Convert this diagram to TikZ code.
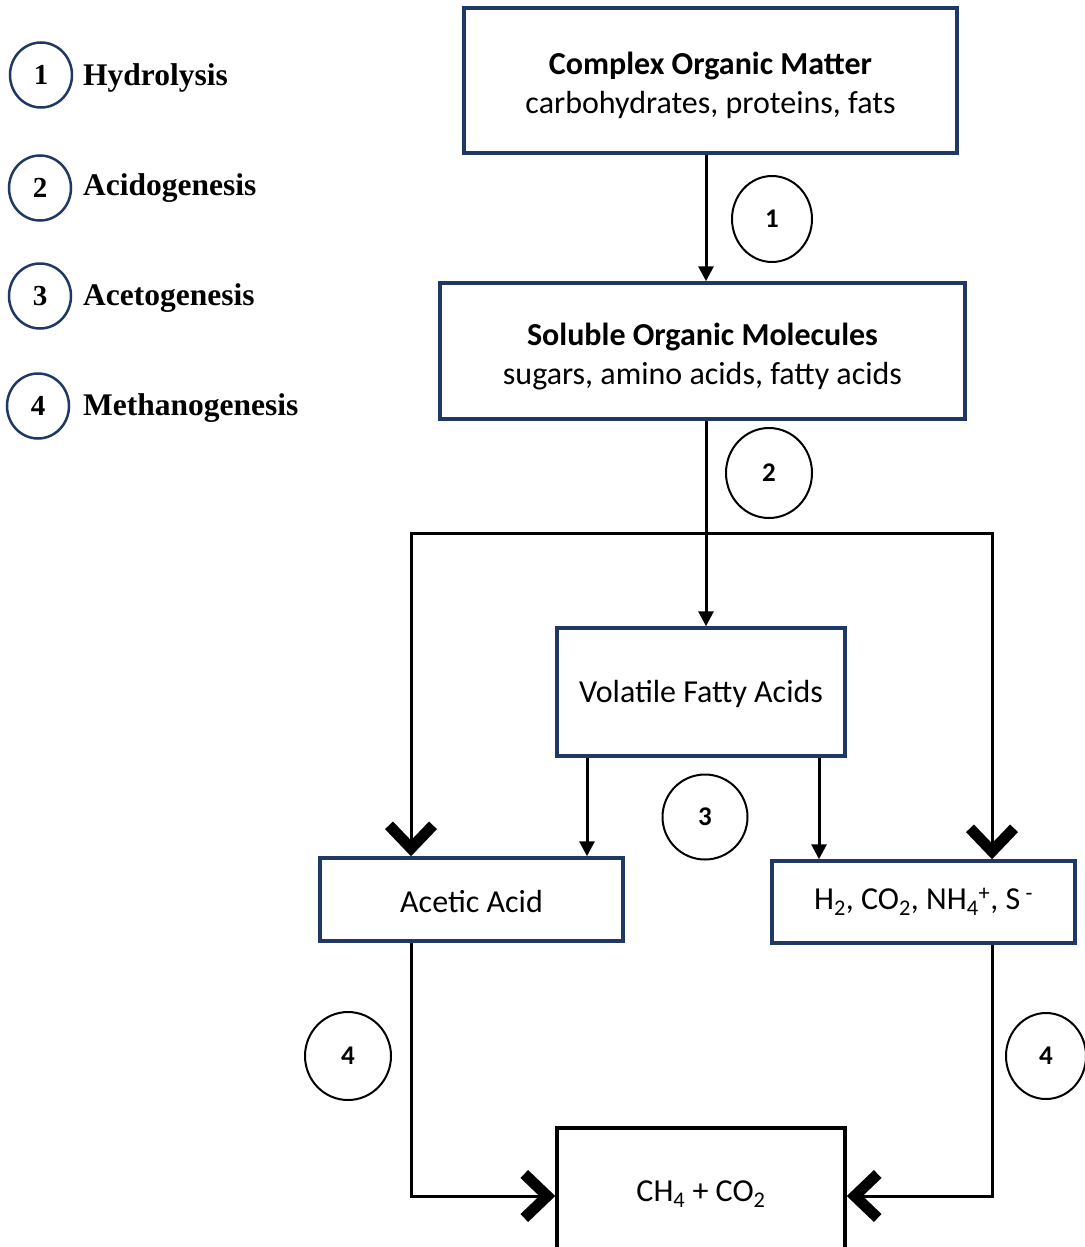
\documentclass[tikz,border=0pt]{standalone}
\usepackage{fontspec}
\setmainfont{Carlito}
\newfontfamily\legfont{Liberation Serif}
\usetikzlibrary{shapes.geometric,arrows.meta}
\definecolor{navy}{RGB}{31,56,100}
\begin{document}
\begin{tikzpicture}[x=1pt,y=-1pt,
  box/.style={draw=navy,line width=3.5pt,rectangle,inner sep=0pt,align=center,font=\fontsize{32}{39}\selectfont},
  stage/.style={draw=black,line width=2pt,ellipse,inner sep=0pt,minimum width=80pt,minimum height=86pt,font=\fontsize{27}{30}\selectfont\bfseries},
  legc/.style={draw=navy,line width=2.5pt,ellipse,inner sep=0pt,minimum width=62pt,minimum height=65pt,font=\legfont\fontsize{29}{30}\selectfont\bfseries},
  legt/.style={anchor=base west,inner sep=0pt,font=\legfont\fontsize{31.5}{34}\selectfont\bfseries},
  conn/.style={line width=3pt,draw=black},
  arr/.style={conn,-{Triangle[width=15pt,length=15pt]}},
  bigarr/.style={conn,-{Straight Barb[line width=11pt,length=23pt,width=44pt]}}]
\useasboundingbox (0,0) rectangle (1084,1247);
\fill[white] (0,0) rectangle (1084,1247);

% legend
\node[legc] (l1) at (41,75) {1};
\node[legt] (t1) at (83,85) {Hydrolysis};
\node[legc] (l2) at (40,188) {2};
\node[legt] (t2) at (83,195) {Acidogenesis};
\node[legc] (l3) at (40,296) {3};
\node[legt] (t3) at (83,305) {Acetogenesis};
\node[legc] (l4) at (38,406) {4};
\node[legt] (t4) at (83,415) {Methanogenesis};

% boxes
\node[box,minimum width=493pt,minimum height=145pt] (b1) at (710.5,80.5)
  {\rule{0pt}{32pt}\textbf{Complex Organic Matter}\\carbohydrates, proteins, fats};
\node[box,minimum width=525pt,minimum height=136pt] (b2) at (702.5,351)
  {\rule{0pt}{33pt}\textbf{Soluble Organic Molecules}\\sugars, amino acids, fatty acids};
\node[box,minimum width=288pt,minimum height=128pt] (vfa) at (701,692) {\rule{0pt}{27pt}Volatile Fatty Acids};
\node[box,minimum width=303pt,minimum height=83pt] (ac) at (471.5,899.5) {\rule{0pt}{26pt}Acetic Acid};
\node[box,minimum width=303pt,minimum height=82pt] (h2) at (923.5,902)
  {H\textsubscript{2}, CO\textsubscript{2}, NH\textsubscript{4}\textsuperscript{+}, S\,\textsuperscript{-}};
\node[box,draw=black,minimum width=288pt,minimum height=132pt] (ch4) at (701,1194)
  {CH\textsubscript{4} + CO\textsubscript{2}};

% stage circles
\node[stage] (s1) at (772,219) {1};
\node[stage,minimum width=86pt,minimum height=90pt] (s2) at (769,473) {2};
\node[stage,minimum width=85pt,minimum height=85pt] (s3) at (705,817) {3};
\node[stage,minimum width=86pt,minimum height=88pt] (s4a) at (348,1056) {4};
\node[stage] (s4b) at (1046,1056) {4};

% connectors
\coordinate (jc) at (706,533);
\coordinate (jl) at (411,533);
\coordinate (jr) at (992,533);
\draw[arr] (b1.south -| jc) -- (b2.north -| jc);
\draw[conn] (b2.south -| jc) -- (jc);
\draw[arr] (jc) -- (vfa.north -| jc);
\draw[conn,line cap=rect] (jl) -- (jr);
\draw[bigarr] (jl) -- (ac.north -| jl);
\draw[bigarr] (jr) -- (h2.north -| jr);
\draw[arr] ([xshift=-114pt]vfa.south) -- ([xshift=-114pt]vfa.south |- ac.north);
\draw[arr] ([xshift=118pt]vfa.south) -- ([xshift=118pt]vfa.south |- h2.north);
\draw[bigarr] (ac.south -| jl) |- ([yshift=-2pt]ch4.west);
\draw[bigarr] (h2.south -| jr) |- ([yshift=-2pt]ch4.east);
\end{tikzpicture}
\end{document}
